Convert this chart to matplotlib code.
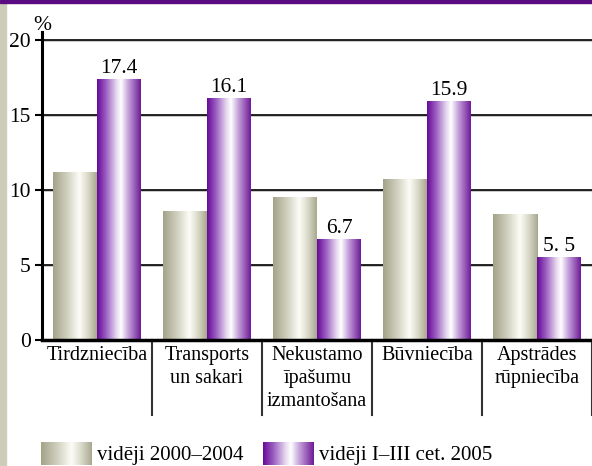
import numpy as np
import matplotlib.pyplot as plt
from matplotlib.colors import LinearSegmentedColormap
from matplotlib.patches import Rectangle

plt.rcParams['font.family'] = ['Liberation Serif', 'DejaVu Serif']

# data
categories = ['Tirdzniecība', 'Transports\nun sakari', 'Nekustamo\nīpašumu\nizmantošana',
              'Būvniecība', 'Apstrādes\nrūpniecība']
avg_2000_2004 = [11.2, 8.6, 9.5, 10.7, 8.4]
avg_2005 = [17.4, 16.1, 6.7, 15.9, 5.5]
value_labels = ['17.4', '16.1', '6.7', '15.9', '5. 5']
legend_labels = ['vidēji 2000–2004', 'vidēji I–III cet. 2005']

grey_cmap = LinearSegmentedColormap.from_list('grey', [
    (0.0, '#a3a389'), (0.3, '#cdcdbb'), (0.6, '#fdfdf8'), (0.8, '#d8d8c8'), (1.0, '#a8a890')])
purple_cmap = LinearSegmentedColormap.from_list('purple', [
    (0.0, '#670a97'), (0.2, '#9a5cc0'), (0.45, '#e8dcf0'), (0.55, '#ffffff'),
    (0.7, '#c9a9de'), (1.0, '#6e1a96')])
grad = np.linspace(0, 1, 256).reshape(1, -1)

W, H = 592, 466
fig = plt.figure(figsize=(W / 100, H / 100), dpi=100)

# side strip and top line
fig.patches.append(Rectangle((0, 0), 6 / W, 1, transform=fig.transFigure,
                             color='#cdccb9', zorder=0))
fig.patches.append(Rectangle((0, 1 - 2.5 / H), 1, 2.5 / H, transform=fig.transFigure,
                             color='#5b0b82', zorder=0))

ax = fig.add_axes([42 / W, (H - 340) / H, 550 / W, 308 / H])
ymax = 308 / 15
for s in ['top', 'right', 'bottom']:
    ax.spines[s].set_visible(False)
ax.spines['left'].set_linewidth(2.2)

ax.set_yticks([0, 5, 10, 15, 20])
ax.tick_params(axis='y', direction='out', length=5, width=1.5, labelsize=15.5, pad=3)
ax.set_xticks([])

# grid lines with a light shadow
for y in [5, 10, 15, 20]:
    ax.plot([0, 5], [y - 0.08, y - 0.08], color='#c0c0c0', lw=1.2, zorder=1)
    ax.plot([0, 5], [y, y], color='black', lw=1.2, zorder=1.1)
ax.plot([0, 5], [0, 0], color='black', lw=2.5, zorder=5, clip_on=False)

bw = 0.4
for i in range(len(categories)):
    c = i + 0.5
    for x0, val, cmap in [(c - bw, avg_2000_2004[i], grey_cmap), (c, avg_2005[i], purple_cmap)]:
        ax.imshow(grad, cmap=cmap, aspect='auto', extent=(x0, x0 + bw, 0, val),
                  zorder=3, interpolation='bilinear')
    ax.text(c + bw / 2, avg_2005[i] + 0.1, value_labels[i],
            ha='center', va='bottom', fontsize=15.5)
    ax.text(c, -0.4, categories[i], ha='center', va='top', fontsize=14.5,
            linespacing=1.3)
    ax.plot([i + 1, i + 1], [0, -5], color='#333333', lw=1.5, clip_on=False)

ax.set_aspect('auto')
ax.set_xlim(0, 5)
ax.set_ylim(0, ymax)
ax.text(0, ymax - 0.2, '%', ha='center', va='bottom', fontsize=15.5)

# legend
for px, cmap, lab in [(41, grey_cmap, legend_labels[0]), (263, purple_cmap, legend_labels[1])]:
    lax = fig.add_axes([px / W, 1 / H, 51 / W, 23 / H])
    lax.imshow(grad, cmap=cmap, aspect='auto', interpolation='bilinear')
    lax.axis('off')
    fig.text((px + 56) / W, 1 / H, lab, ha='left', va='bottom', fontsize=15)

fig.savefig('out.png', dpi=100)
